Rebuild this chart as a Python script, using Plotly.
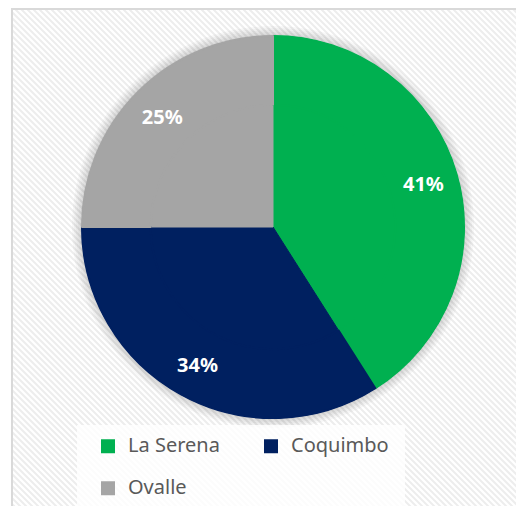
import plotly.graph_objects as go

# ---- data ----
labels = ["La Serena", "Coquimbo", "Ovalle"]
values = [41, 34, 25]
colors = ["#00B050", "#002060", "#A5A5A5"]

# page offset of the figure inside the browser window (body margin)
O = 8
W, H = 524 - O, 506 - O
ML, MR, MT, MB = 0, 50, 0, 0
PW, PH = W - ML - MR, H - MT - MB


def px(x):  # screen x -> paper
    return (x - O - ML) / PW


def py(y):  # screen y -> paper
    return 1 - (y - O - MT) / PH


# pie geometry (screen pixels)
cx, cy, R = 273, 227, 191
dom = dict(x=[px(cx - R), px(cx + R)], y=[py(cy + R), py(cy - R)])

legend_labels = [f"<span style='font-size:20px'>{l}</span><br> " for l in labels]

fig = go.Figure()
# full pie (fills the centre)
fig.add_trace(go.Pie(
    labels=legend_labels, values=values, sort=False, direction="clockwise", rotation=0,
    marker=dict(colors=colors, line=dict(color=colors, width=1)),
    textinfo="none", showlegend=False, hoverinfo="skip", domain=dom,
))
# ring carrying the labels near the rim
fig.add_trace(go.Pie(
    labels=legend_labels, values=values, sort=False, direction="clockwise", rotation=0,
    hole=0.64,
    marker=dict(colors=colors, line=dict(color=colors, width=2)),
    texttemplate="%{percent:.0%}",
    textposition="inside",
    insidetextorientation="horizontal",
    textfont=dict(family="Noto Sans", size=20, color="white", weight="bold"),
    domain=dom,
    hoverinfo="label+percent",
))

shapes = []
# hatch background
segs = []
x0 = 12 - 520
while x0 < 530:
    segs.append(f"M{px(x0):.5f},{py(O):.5f}L{px(x0 + 520):.5f},{py(O + 520):.5f}")
    x0 += 6
shapes.append(dict(type="path", xref="paper", yref="paper", path="".join(segs),
                   line=dict(color="#ededed", width=2), layer="below"))
# white strip left of the chart area
shapes.append(dict(type="rect", xref="paper", yref="paper", x0=px(0), x1=px(12), y0=py(520), y1=py(0),
                   fillcolor="white", line=dict(width=0), layer="below"))
# border
shapes.append(dict(type="line", xref="paper", yref="paper", x0=px(12), x1=px(12), y0=py(O), y1=py(520),
                   line=dict(color="#d9d9d9", width=2), layer="below"))
shapes.append(dict(type="line", xref="paper", yref="paper", x0=px(11), x1=px(530), y0=py(O + 1), y1=py(O + 1),
                   line=dict(color="#d9d9d9", width=2), layer="below"))
# soft glow around the pie
for k in [10, 8, 6, 4, 2]:
    shapes.append(dict(type="circle", xref="paper", yref="paper", xsizemode="pixel", ysizemode="pixel",
                       xanchor=px(cx), yanchor=py(cy), x0=-(R + k), x1=R + k, y0=-(R + k), y1=R + k,
                       fillcolor="rgba(0,0,0,0.03)", line=dict(width=0), layer="below"))
# legend box
shapes.append(dict(type="rect", xref="paper", yref="paper", x0=px(77), x1=px(405), y0=py(520), y1=py(425),
                   fillcolor="rgba(255,255,255,0.8)", line=dict(width=0), layer="below"))

fig.update_layout(
    width=W, height=H,
    margin=dict(l=ML, r=MR, t=MT, b=MB, autoexpand=False),
    paper_bgcolor="white",
    plot_bgcolor="white",
    shapes=shapes,
    showlegend=True,
    legend=dict(
        orientation="h",
        x=px(88), xanchor="left",
        y=py(430), yanchor="top",
        font=dict(family="Noto Sans", size=15, color="#595959"),
        entrywidth=118, entrywidthmode="pixels",
        valign="top",
        bgcolor="rgba(0,0,0,0)",
        traceorder="normal",
    ),
)

fig.write_html("out.html")
